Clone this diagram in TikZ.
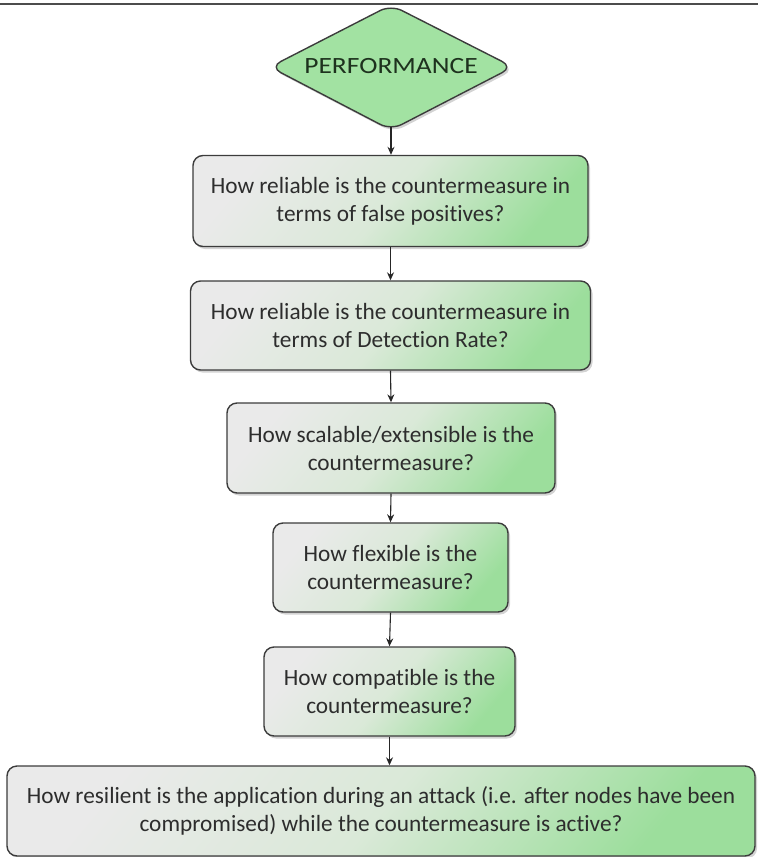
\documentclass[tikz,border=0pt]{standalone}
\usepackage{fontspec}
\setmainfont{Carlito}[Ligatures={NoCommon}]
\usetikzlibrary{shadows,arrows.meta}
\definecolor{boxgray}{RGB}{234,234,234}
\definecolor{boxmid}{RGB}{218,233,216}
\definecolor{boxgreen}{RGB}{156,222,156}
\definecolor{dmfill}{RGB}{162,226,162}
\definecolor{edge}{RGB}{60,60,60}
\definecolor{txt}{RGB}{45,45,45}
\definecolor{dtxt}{RGB}{30,50,30}
\tikzset{
  qbox/.style={draw=edge, line width=1.4pt, rounded corners=10pt,
    left color=boxgray, right color=boxgreen, middle color=boxmid, shading angle=50,
    drop shadow={shadow xshift=2pt, shadow yshift=-2.5pt, opacity=0.35},
    align=center, inner sep=0pt, text=txt,
    font=\fontsize{23.3}{28}\selectfont},
  dmnd/.style={draw=edge, line width=1.4pt, rounded corners=12pt, fill=dmfill,
    drop shadow={shadow xshift=2pt, shadow yshift=-2.5pt, opacity=0.35}},
  dlabel/.style={inner sep=0pt, text=dtxt, font=\fontsize{23.3}{28}\selectfont},
  link/.style={draw=black!85, line width=1.1pt, -{Stealth[length=8pt,width=7pt]}},
  rule/.style={draw=black!70, line width=1.6pt}
}
\begin{document}
\begin{tikzpicture}[x=1pt,y=-1pt]
\useasboundingbox (0,0) rectangle (758,857);
\coordinate (rl) at (0,4);
\coordinate (rr) at (758,4);
\draw[rule] (rl) -- (rr);
\coordinate (dL) at (270,67);
\coordinate (dT) at (391,5);
\coordinate (dR) at (513,67);
\coordinate (dB) at (391,130);
\path[dmnd] (dL) -- (dT) -- (dR) -- (dB) -- cycle;
\node[dlabel] (d) at (391,66) {\scalebox{1.18}[1]{PERFORMANCE}};
\coordinate (dtip) at (391,127);
\node[qbox, minimum width=395pt, minimum height=91pt] (b1) at (390.5,201) {How reliable is the countermeasure in\\terms of false positives?};
\node[qbox, minimum width=400pt, minimum height=89pt] (b2) at (390.5,325.5) {How reliable is the countermeasure in\\terms of Detection Rate?};
\node[qbox, minimum width=328pt, minimum height=90pt] (b3) at (391,448) {How scalable/extensible is the\\countermeasure?};
\node[qbox, minimum width=235pt, minimum height=89pt] (b4) at (390.5,567.5) {How flexible is the\\countermeasure?};
\node[qbox, minimum width=251pt, minimum height=89pt] (b5) at (389.5,691.5) {How compatible is the\\countermeasure?};
\node[qbox, minimum width=748pt, minimum height=90pt] (b6) at (381,811) {How resilient is the application during an attack (i.e. after nodes have been\\compromised) while the countermeasure is active?};
\draw[link] (dtip) -- (b1.north -| dtip);
\draw[link] (b1.south) -- (b2.north);
\draw[link] (b2.south) -- (b3.north);
\draw[link] (b3.south) -- (b4.north);
\draw[link] (b4.south) -- (b5.north);
\draw[link] (b5.south) -- (b6.north -| b5.south);
\end{tikzpicture}
\end{document}
